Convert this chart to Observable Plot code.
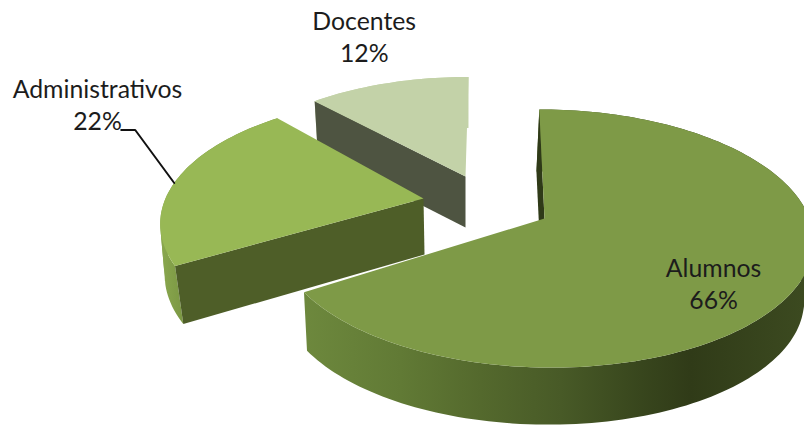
<!DOCTYPE html>
<html>
<head>
<meta charset="utf-8">
<script src="https://cdn.jsdelivr.net/npm/d3@7"></script>
<script src="https://cdn.jsdelivr.net/npm/@observablehq/plot@0.6"></script>
<style>html,body{margin:0;padding:0;background:#fff;overflow:hidden}svg{display:block}</style>
</head>
<body>
<div id="chart"></div>
<script>
const categories = ["Alumnos", "Administrativos", "Docentes"];
const shares = [66, 22, 12];
const topColors = ["#7e9a47", "#98b855", "#c3d2a8"];
const faceColors = ["#2f3a18", "#4e5e28", "#4e5441"];
const sideColors = ["url(#alumnosWall)", "url(#adminWall)", "#c3d2a8"];
const alumnosStops = [[305, "#6d883d"], [400, "#617a35"], [480, "#54692d"], [560, "#485a27"], [640, "#38461d"], [690, "#303b18"], [804, "#3c4a20"]];
const adminStops = [[160, "#8aa84f"], [190, "#76923f"]];

// view geometry of each exploded slice (pie drawn in a tilted perspective)
const W = 804, H = 427;
const view = [
  {cx: 544, cy: 218, A: 265, B: 126, p: 0.155, s: -6, rot: 0,   dx: -3, depth: 60, k: 0.975, e: 0,   ky: 0.98, lx: -85, ly: -1},
  {cx: 423, cy: 198, A: 258, B: 122, p: 0.2,   s: 0,  rot: 2.5, dx: 1,  depth: 56, k: 0.995, e: -12, ky: 1.03, lx: -80, ly: -75},
  {cx: 465, cy: 176, A: 249, B: 115, p: 0.155, s: 3.5,rot: 0,   dx: 0,  depth: 51, k: 0.98,  e: 0,   ky: 1,    lx: -24, ly: -47}
];

function rim(v, deg, bottom) {
  const t = (deg + v.rot) * Math.PI / 180, u = Math.sin(t), w = Math.cos(t), d = 1 + v.p * w;
  const rx = (v.A * u + v.s * w) / d, ry = -v.B * w / d;
  return bottom
    ? {x: v.cx + v.dx + v.k * rx + v.e * w, y: v.cy + v.depth + ry * v.ky}
    : {x: v.cx + rx, y: v.cy + ry};
}

const total = d3.sum(shares);
const polys = [], labels = [], order = [2, 1, 0];
let start = 0;
const spans = shares.map(s => { const a = [start, start + s / total * 360]; start = a[1]; return a; });

let id = 0;
function push(points, fill) {
  const key = id++;
  for (const p of points) polys.push({x: p.x, y: p.y, id: key, fill});
}
for (const i of order) {
  const v = view[i], [a0, a1] = spans[i];
  const n = Math.ceil((a1 - a0) / 1.5), step = (a1 - a0) / n;
  const angles = d3.range(n + 1).map(j => a0 + j * step);
  // outer wall: the ribbon folds at the silhouette, so each run of steps with
  // the same orientation becomes its own polygon
  const quadSign = j => Math.sign(d3.polygonArea([
    rim(v, angles[j], false), rim(v, angles[j + 1], false), rim(v, angles[j + 1], true), rim(v, angles[j], true)
  ].map(p => [p.x, p.y])));
  let runStart = 0;
  for (let j = 1; j <= n; j++) {
    if (j === n || quadSign(j) !== quadSign(j - 1)) {
      const run = angles.slice(runStart, j + 1);
      push([...run.map(a => rim(v, a, false)), ...run.slice().reverse().map(a => rim(v, a, true))], sideColors[i]);
      runStart = j;
    }
  }
  // radial face at the start of the slice
  push([{x: v.cx, y: v.cy}, rim(v, a0, false), rim(v, a0, true), {x: v.cx + v.dx, y: v.cy + v.depth}], faceColors[i]);
  // top surface
  push([{x: v.cx, y: v.cy}, ...angles.map(a => rim(v, a, false))], topColors[i]);
  const m = rim(v, (a0 + a1) / 2, false);
  labels.push({x: m.x + v.lx, y: m.y + v.ly, text: `${categories[i]}\n${shares[i]}%`});
}

// leader line of the Administrativos label
const anchor = rim(view[1], 275, false);
const leader = [{x: anchor.x - 53, y: anchor.y - 53}, {x: anchor.x - 39, y: anchor.y - 53}, anchor];

const chart = Plot.plot({
  width: W, height: H, margin: 0,
  x: {domain: [0, W], range: [0, W], axis: null},
  y: {domain: [0, H], range: [0, H], axis: null},
  color: {type: "identity"},
  style: {background: "#fff"},
  marks: [
    Plot.line(polys, {x: "x", y: "y", z: "id", fill: "fill", stroke: "none", curve: "linear"}),
    Plot.line(leader, {x: "x", y: "y", stroke: "#111", strokeWidth: 2, curve: "linear"}),
    Plot.text(labels, {x: "x", y: "y", text: "text", fontFamily: "Lato", fontSize: 24.8, lineHeight: 1.29, fill: "#1c1c1c", textAnchor: "middle"})
  ]
});

// wall shading as horizontal gradients in page space
const ns = "http://www.w3.org/2000/svg";
const defs = document.createElementNS(ns, "defs");
function gradient(gid, stops) {
  const g = document.createElementNS(ns, "linearGradient");
  g.setAttribute("id", gid);
  g.setAttribute("gradientUnits", "userSpaceOnUse");
  g.setAttribute("x1", stops[0][0]); g.setAttribute("x2", stops[stops.length - 1][0]);
  g.setAttribute("y1", 0); g.setAttribute("y2", 0);
  const span = stops[stops.length - 1][0] - stops[0][0];
  for (const [x, c] of stops) {
    const s = document.createElementNS(ns, "stop");
    s.setAttribute("offset", (x - stops[0][0]) / span);
    s.setAttribute("stop-color", c);
    g.append(s);
  }
  defs.append(g);
}
gradient("alumnosWall", alumnosStops);
gradient("adminWall", adminStops);
chart.prepend(defs);
document.getElementById("chart").append(chart);
</script>
</body>
</html>
